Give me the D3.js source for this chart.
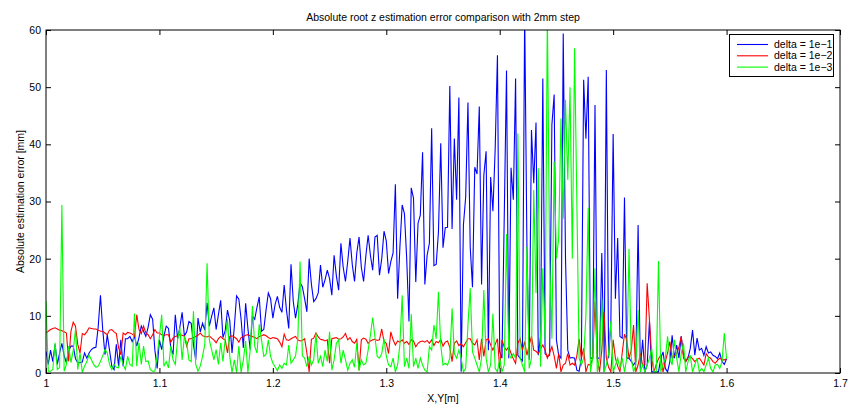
<!DOCTYPE html>
<html><head><meta charset="utf-8">
<script src="https://cdn.jsdelivr.net/npm/d3@7"></script>
<style>
body{margin:0;background:#fff;}
svg text{font-family:"Liberation Sans",Arial,Helvetica,sans-serif;fill:#000;}
</style>
</head><body>
<svg id="chart" width="848" height="405"></svg>
<script>
// ---- data ----
const xStart = 1.0;      // first sample position [m]
const xStep = 0.002;     // 2 mm step
const xTicks = [1, 1.1, 1.2, 1.3, 1.4, 1.5, 1.6, 1.7];
const yTicks = [0, 10, 20, 30, 40, 50, 60];
const seriesNames = ["delta = 1e\u22121", "delta = 1e\u22122", "delta = 1e\u22123"];
const titleText = "Absolute root z estimation error comparison with 2mm step";
const xLabelText = "X,Y[m]";
const yLabelText = "Absolute estimation error [mm]";

const blue = [
3.8,1.5,4.0,2.0,5.0,1.5,3.5,5.2,3.0,1.8,
4.0,4.7,4.7,2.5,1.8,1.8,1.9,3.5,2.6,3.5,
4.1,4.4,4.5,8.0,13.6,7.6,3.2,6.7,4.0,1.2,
0.6,5.0,1.2,5.8,1.2,6.0,6.0,6.4,5.5,6.4,
4.7,6.2,8.2,7.3,6.4,8.0,10.2,9.4,4.0,0.8,
5.8,4.1,6.5,8.2,7.8,4.5,3.2,10.2,6.0,8.0,
10.6,6.5,7.2,9.0,8.7,5.0,2.3,9.6,7.2,8.7,
7.5,12.3,8.2,9.9,11.4,7.6,10.2,12.7,6.2,7.4,
11.0,9.2,3.5,8.0,13.5,12.9,9.4,4.4,12.2,7.8,
4.1,10.0,9.4,11.5,13.3,7.3,7.6,11.0,14.0,13.0,
9.6,12.0,13.4,11.5,10.6,15.4,11.0,7.8,19.0,12.5,
9.6,12.0,15.8,15.1,13.0,10.7,20.0,15.5,12.5,13.0,
14.0,18.9,15.0,16.3,18.0,16.5,13.6,20.6,17.0,14.5,
22.7,18.5,16.0,19.5,23.6,19.0,16.0,21.0,23.8,18.5,
16.0,20.5,24.1,20.6,18.0,23.8,24.1,17.1,20.0,24.8,
23.1,17.4,19.5,21.0,33.0,13.0,22.0,29.4,27.9,20.0,
9.0,32.4,30.6,15.9,26.2,27.6,38.6,15.5,20.6,22.7,
42.8,18.8,19.0,24.7,40.2,21.9,25.4,25.5,50.2,25.2,
41.0,30.3,48.2,0.2,25.9,30.8,47.3,22.0,15.0,36.0,
34.8,46.6,15.5,34.6,38.8,4.0,34.3,28.3,39.2,55.6,
3.7,2.6,27.3,52.9,2.6,35.9,30.3,51.5,3.1,2.6,
2.1,63.0,22.1,2.3,42.5,33.2,43.8,3.1,6.4,51.5,
3.4,2.9,3.1,43.4,48.7,5.8,3.1,2.6,59.4,20.0,
4.0,2.6,2.7,2.6,0.5,0.3,2.6,51.3,41.0,51.8,
2.6,2.6,46.9,2.6,2.6,21.0,0.2,53.0,2.6,9.0,
41.8,13.0,23.6,6.4,6.1,30.7,2.6,2.6,2.0,1.4,
2.0,25.9,0.8,5.8,0.2,1.4,9.1,0.2,0.2,0.2,
0.2,2.6,3.7,0.8,0.2,2.0,6.6,2.6,4.9,2.6,
6.4,3.4,2.0,2.6,4.3,7.5,3.1,6.1,4.0,4.3,
3.1,4.6,3.5,3.7,3.1,2.9,2.5,3.5,2.0,1.5,
2.5];

const red = [
7.0,7.3,7.6,7.8,7.9,7.7,7.5,7.4,7.2,7.0,
2.0,7.3,8.9,8.2,5.0,3.5,6.9,6.7,7.2,7.9,
7.8,7.7,7.7,7.5,7.3,7.3,7.0,6.7,7.5,7.6,
7.2,6.9,4.4,3.2,7.0,6.7,7.1,7.0,6.8,6.4,
10.2,7.6,6.9,8.2,7.0,6.7,6.0,6.7,7.6,7.0,
7.0,6.7,6.6,6.7,6.7,5.4,6.1,6.4,6.5,6.7,
6.6,6.5,4.7,6.0,6.0,6.2,6.4,6.6,7.0,6.5,
6.4,6.3,6.5,6.1,5.8,5.3,6.0,6.4,6.0,5.8,
3.5,6.4,6.5,6.3,6.0,5.4,6.2,6.4,6.6,6.7,
6.5,6.4,6.2,6.0,6.4,6.5,6.7,6.5,6.2,6.0,
6.2,6.1,6.0,5.4,4.6,6.8,5.8,5.7,6.0,6.2,
6.4,5.8,5.6,5.7,6.0,3.5,0.2,5.9,6.1,7.0,
6.3,5.9,5.8,5.6,5.8,1.7,6.0,6.1,6.2,5.9,
6.0,6.3,6.9,5.8,6.2,5.5,5.2,5.9,0.5,5.8,
6.1,5.9,5.2,5.6,5.8,5.9,5.7,5.8,7.7,5.5,
5.2,3.4,7.2,5.8,4.9,5.6,5.4,5.8,5.2,5.5,
5.0,5.8,5.6,4.6,5.2,5.5,5.6,5.4,5.7,5.2,
5.8,4.8,5.5,5.3,5.9,4.7,5.4,5.6,4.5,2.0,
5.2,5.6,4.8,5.1,4.6,5.3,6.0,6.0,5.2,4.9,
5.8,2.3,6.0,2.9,5.8,6.0,4.9,4.0,5.0,6.0,
0.8,5.8,4.5,4.0,4.6,3.4,2.5,1.7,5.2,6.0,
4.0,5.5,3.1,4.9,6.4,4.0,3.8,3.4,4.2,4.9,
4.0,2.6,3.5,4.6,3.0,0.8,3.4,0.2,1.4,1.7,
3.4,1.4,1.7,1.4,3.0,6.0,2.6,4.3,0.2,1.5,
1.4,2.6,12.5,2.6,0.2,4.0,10.7,2.6,1.0,0.2,
5.8,2.6,1.2,0.2,3.5,6.8,5.8,2.6,4.0,8.4,
0.2,1.4,3.4,1.4,1.4,15.7,9.3,2.6,0.2,1.5,
2.5,3.1,0.2,2.0,3.5,5.5,2.6,3.0,3.4,4.5,
6.4,2.6,2.0,2.8,2.9,2.5,2.0,2.4,2.6,2.0,
1.4,3.4,2.8,2.6,2.0,1.7,2.2,2.6,2.3,2.3,
2.5];

const green = [
12.6,0.3,0.3,0.6,5.3,0.6,1.0,29.4,0.3,1.5,
4.7,1.8,4.0,7.6,0.6,3.5,0.1,1.2,2.0,3.2,
2.3,1.5,1.0,1.2,2.0,3.0,4.1,3.5,1.5,0.6,
1.5,1.0,0.9,2.9,1.5,0.6,2.9,1.5,1.2,10.4,
1.2,5.3,1.5,4.7,2.0,2.1,0.6,0.3,0.3,3.0,
6.4,10.2,1.2,2.0,0.9,4.7,2.3,1.5,5.8,7.9,
2.3,6.4,5.3,2.3,2.0,10.8,1.5,0.3,1.2,2.9,
5.0,19.2,5.8,4.1,2.3,4.1,1.5,5.3,2.0,6.0,
9.4,2.9,0.1,2.3,0.1,4.7,0.1,2.3,5.6,0.1,
4.0,11.7,4.7,3.5,8.5,5.8,2.9,3.3,5.8,2.9,
1.7,1.1,0.4,1.4,0.8,1.7,1.4,4.9,1.7,2.3,
3.0,6.0,19.5,3.0,2.6,1.1,2.9,1.4,2.3,6.9,
1.7,2.9,1.1,4.0,2.0,7.2,0.5,2.3,5.2,5.8,
1.7,4.0,2.3,0.5,1.7,2.3,1.0,5.2,0.4,2.3,
1.4,1.7,4.0,6.6,9.7,6.3,2.9,2.6,3.4,6.0,
3.0,1.4,1.1,2.6,0.2,1.4,5.0,13.6,1.1,2.6,
0.8,10.3,1.1,2.6,0.8,2.6,1.4,0.5,0.2,4.6,
4.0,8.4,6.0,14.2,4.9,1.4,1.7,1.4,2.6,11.3,
3.4,2.6,4.0,2.6,0.2,0.8,8.4,14.8,3.7,2.6,
1.4,0.2,2.6,14.5,2.6,0.2,1.4,10.4,0.8,0.2,
2.6,0.2,1.4,24.3,3.4,2.6,3.4,2.6,41.9,2.6,
1.4,0.2,22.1,0.8,2.6,32.0,14.0,35.8,1.1,18.3,
5.8,63.0,20.0,6.0,37.0,20.0,23.6,44.5,27.0,47.8,
33.8,50.0,20.0,56.8,30.0,2.6,1.4,2.6,10.0,28.9,
0.2,2.6,18.3,0.2,2.6,13.0,0.2,1.4,3.4,9.1,
0.2,1.4,2.6,0.8,2.6,0.2,2.6,21.7,2.6,0.2,
1.4,11.0,0.2,1.4,0.2,1.4,2.6,4.3,0.2,0.2,
19.6,0.2,1.4,2.6,6.4,2.6,1.4,5.8,2.6,0.2,
3.4,5.2,0.2,2.0,3.1,0.2,1.4,2.6,0.2,0.8,
0.2,1.4,2.6,0.8,0.2,1.4,1.5,0.8,2.0,7.0,
2.5];

const seriesColors = ["#0000ff", "#ff0000", "#00ff00"];
const seriesData = [blue, red, green];

// ---- layout ----
const svg = d3.select("#chart");
const L = 46, R = 840, T = 30, B = 373;

const x = d3.scaleLinear().domain([1, 1.7]).range([L, R]);
const y = d3.scaleLinear().domain([0, 60]).range([B, T]);

svg.append("rect").attr("width", 848).attr("height", 405).attr("fill", "#fff");

svg.append("defs").append("clipPath").attr("id", "clip")
  .append("rect").attr("x", L).attr("y", T).attr("width", R - L).attr("height", B - T);

// axes
const fmt = d => String(d);
const gB = svg.append("g").attr("transform", `translate(0,${B})`)
  .call(d3.axisBottom(x).tickValues(xTicks).tickFormat(fmt).tickSizeInner(-5).tickSizeOuter(0).tickPadding(7));
const gT = svg.append("g").attr("transform", `translate(0,${T})`)
  .call(d3.axisTop(x).tickValues(xTicks).tickFormat("").tickSizeInner(-5).tickSizeOuter(0));
const gL = svg.append("g").attr("transform", `translate(${L},0)`)
  .call(d3.axisLeft(y).tickValues(yTicks).tickFormat(fmt).tickSizeInner(-5).tickSizeOuter(0).tickPadding(5));
const gR = svg.append("g").attr("transform", `translate(${R},0)`)
  .call(d3.axisRight(y).tickValues(yTicks).tickFormat("").tickSizeInner(-5).tickSizeOuter(0));
[gB, gT, gL, gR].forEach(g => {
  g.select(".domain").remove();
  g.selectAll(".tick line").attr("stroke", "#000");
  g.selectAll(".tick text").attr("font-size", 10.5).attr("font-family", "'Liberation Sans', Arial, sans-serif").attr("fill", "#000");
});

// lines
const plot = svg.append("g").attr("clip-path", "url(#clip)");
seriesData.forEach((arr, k) => {
  const line = d3.line()
    .x((d, i) => x(xStart + i * xStep))
    .y(d => y(d));
  plot.append("path").datum(arr)
    .attr("d", line)
    .attr("fill", "none")
    .attr("stroke", seriesColors[k])
    .attr("stroke-width", 1.1)
    .attr("stroke-linejoin", "miter");
});

// box
svg.append("rect").attr("x", L).attr("y", T).attr("width", R - L).attr("height", B - T)
  .attr("fill", "none").attr("stroke", "#000").attr("stroke-width", 1);

// title and labels
svg.append("text").attr("x", (L + R) / 2).attr("y", 21).attr("text-anchor", "middle")
  .attr("font-size", 10.5).text(titleText);
svg.append("text").attr("x", (L + R) / 2).attr("y", 402).attr("text-anchor", "middle")
  .attr("font-size", 10.5).text(xLabelText);
svg.append("text").attr("transform", `translate(24,${(T + B) / 2}) rotate(-90)`)
  .attr("text-anchor", "middle").attr("font-size", 10.5).text(yLabelText);

// legend
const lg = svg.append("g");
lg.append("rect").attr("x", 729.5).attr("y", 34.5).attr("width", 104).attr("height", 42)
  .attr("fill", "#fff").attr("stroke", "#000").attr("stroke-width", 1);
seriesNames.forEach((name, k) => {
  const yy = 44.5 + k * 11.3;
  lg.append("line").attr("x1", 737).attr("x2", 768).attr("y1", yy).attr("y2", yy)
    .attr("stroke", seriesColors[k]).attr("stroke-width", 1.1);
  lg.append("text").attr("x", 774).attr("y", yy).attr("dy", "0.35em")
    .attr("font-size", 10.5).text(name);
});
</script>
</body></html>
